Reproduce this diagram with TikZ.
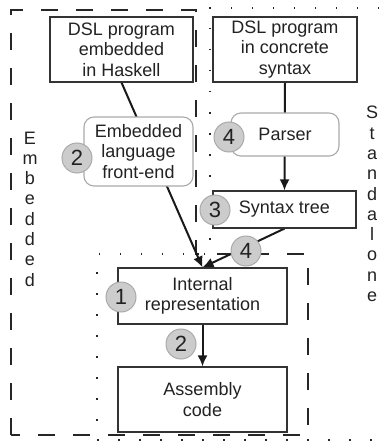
\documentclass[tikz,border=0pt]{standalone}
\usepackage{fontspec}
\setmainfont{Liberation Sans}
\usetikzlibrary{arrows.meta}
\pgfdeclarelayer{background}
\pgfsetlayers{background,main}
\definecolor{txt}{HTML}{222222}
\definecolor{edge}{HTML}{333333}
\definecolor{soft}{HTML}{AAAAAA}
\definecolor{badge}{HTML}{CCCCCC}
\tikzset{
  lbl/.style={font=\fontsize{18}{20.5}\selectfont, text=txt, align=center, inner sep=0pt},
  box/.style={lbl, draw=edge, line width=1.1pt, fill=white},
  rbox/.style={lbl, draw=soft, line width=1.1pt, fill=white, rounded corners=10pt},
  badgec/.style={circle, draw=soft, line width=1pt, fill=badge, minimum size=30pt, inner sep=0pt, font=\fontsize{22}{22}\selectfont, text=txt},
  arr/.style={line width=2pt, draw=black!90, -{Latex[length=11pt,width=10pt]}},
  region/.style={line width=2pt, draw=black!85, dash pattern=on 17pt off 18pt},
  dotreg/.style={line width=2pt, draw=black!85, dash pattern=on 1.5pt off 19.5pt, line cap=butt},
  vert/.style={font=\fontsize{18}{20.3}\selectfont, text=txt, align=center, inner sep=0pt}
}
\begin{document}
\begin{tikzpicture}[x=1pt,y=-1pt]
\useasboundingbox (0,0) rectangle (387,441);
\clip (0,0) rectangle (387,441);
% boxes
\node[box, minimum width=143pt, minimum height=65pt] (A) at (121.5,49.5) {DSL program\\embedded\\in Haskell};
\node[box, minimum width=144pt, minimum height=65pt] (B) at (285,49.5) {DSL program\\in concrete\\syntax};
\node[rbox, minimum width=109pt, minimum height=69pt] (FE) at (138.5,151.5) {Embedded\\language\\front-end};
\node[rbox, minimum width=108pt, minimum height=43pt] (P) at (285,134.5) {Parser};
\node[box, minimum width=143pt, minimum height=37pt] (ST) at (284.5,209.5) {Syntax tree};
\node[box, minimum width=169pt, minimum height=56pt] (IR) at (202.5,296) {Internal\\representation};
\node[box, minimum width=169pt, minimum height=65pt] (AS) at (202.5,399.5) {Assembly\\code};
% badges
\node[badgec] (c2a) at (77,158) {2};
\node[badgec] (c4a) at (229,137) {4};
\node[badgec] (c3) at (215,210) {3};
\node[badgec] (c4b) at (246,251) {4};
\node[badgec] (c1) at (121,297) {1};
\node[badgec] (c2b) at (181,344) {2};
% vertical labels
\node[vert] (emb) at (30,209) {E\\m\\b\\e\\d\\d\\e\\d};
\node[vert] (sta) at (372,204) {S\\t\\a\\n\\d\\a\\l\\o\\n\\e};
\begin{pgfonlayer}{background}
  \draw[region] (11,435) -- (11,10) -- (196,10) -- (196,254) -- (308,254) -- (308,435) -- cycle;
  \draw[dotreg] (400,8) -- (210,8) -- (210,254) -- (97,254) -- (97,440) -- (400,440);
  \draw[arr] (A.south) -- (IR.north);
  \draw[arr] (B.south) -- (ST.north);
  \draw[arr] (ST.south) -- (IR.north);
  \draw[arr] (IR.south) -- (AS.north);
\end{pgfonlayer}
\end{tikzpicture}
\end{document}
